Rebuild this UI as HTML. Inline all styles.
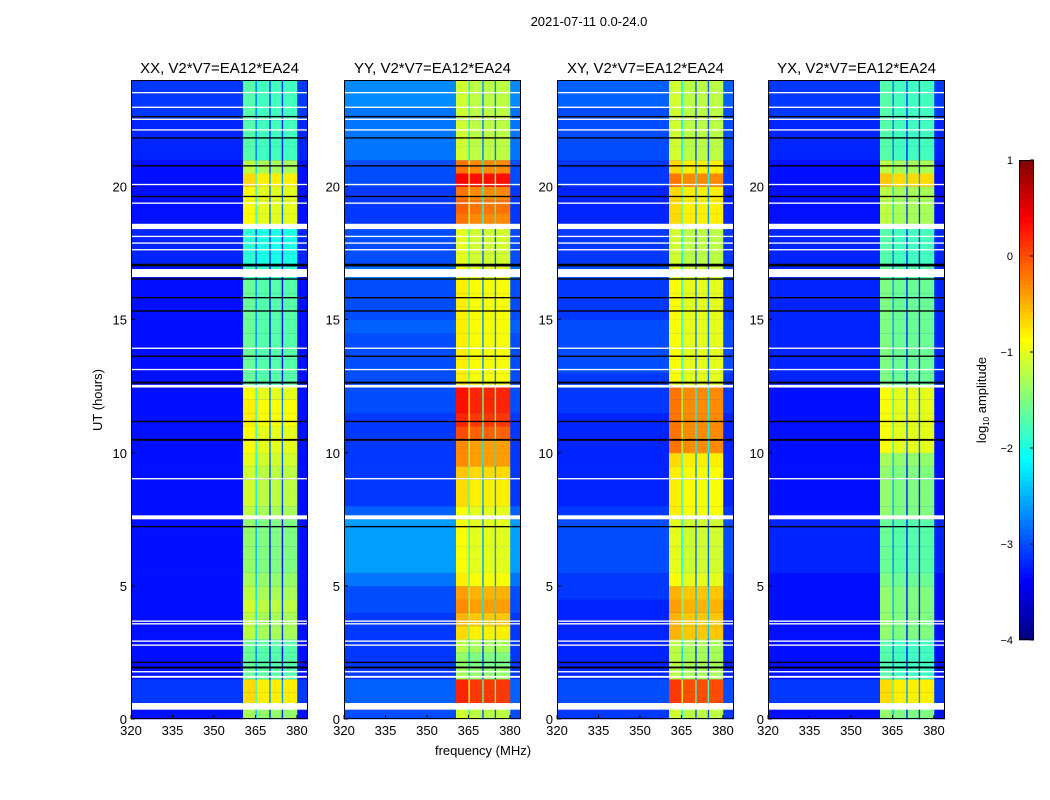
<!DOCTYPE html>
<html><head><meta charset="utf-8">
<style>
body{margin:0;background:#fff;}
svg{display:block;font-family:"Liberation Sans",sans-serif;}
</style></head>
<body>
<svg id="chart" width="1050" height="800" viewBox="0 0 1050 800" xmlns="http://www.w3.org/2000/svg">
<rect width="1050" height="800" fill="#fff"/>
<text x="589" y="26" font-size="13" text-anchor="middle">2021-07-11 0.0-24.0</text>
<text x="483" y="755" font-size="13" text-anchor="middle">frequency (MHz)</text>
<text x="102" y="400" font-size="13" text-anchor="middle" transform="rotate(-90 102 400)">UT (hours)</text>
<g id="panels"></g>
<g id="cbar"></g>
<text x="986" y="400" font-size="13" text-anchor="middle" transform="rotate(-90 986 400)">log<tspan font-size="8" dy="3">10</tspan><tspan dy="-3"> amplitude</tspan></text>
</svg>
<script>
// ---- data ----
const panelTitles = ["XX, V2*V7=EA12*EA24","YY, V2*V7=EA12*EA24","XY, V2*V7=EA12*EA24","YX, V2*V7=EA12*EA24"];
const xTicks = [320,335,350,365,380];
const yTicks = [0,5,10,15,20];
const cbarTicks = [1,0,-1,-2,-3,-4];
// band level (log10 amplitude) per half-hour row, 0..24 h
const bandXX = [-1.4,-0.8,-0.8,-1.7,-1.7,-1.7,-1.3,-1.3,-1.2,-1.3,-1.4,-1.5,-1.5,-1.5,-1.5,-1.3,-1.2,-1.2,-1.2,-1.1,-1.0,-1.0,-0.9,-0.9,-1.0,-1.7,-1.7,-1.7,-1.7,-1.7,-1.7,-1.7,-1.7,-1.9,-2.0,-2.0,-2.0,-1.0,-1.0,-1.0,-0.8,-1.3,-1.8,-1.8,-1.8,-1.8,-1.8,-1.8];
const bandYY = [-1.2,0.1,0.1,-1.4,-1.5,-1.3,-0.8,-0.6,-0.4,-0.5,-0.9,-1.0,-1.0,-1.0,-1.0,-1.0,-0.8,-0.8,-0.7,-0.4,-0.4,-0.1,0.1,0.2,0.2,-0.9,-0.9,-0.9,-0.9,-0.9,-0.9,-0.9,-0.9,-1.0,-1.1,-1.1,-1.1,-0.3,-0.2,-0.3,0.3,-0.3,-1.2,-1.2,-1.2,-1.2,-1.2,-1.2];
const bandXY = [-1.2,0.0,0.0,-1.3,-1.3,-1.3,-0.6,-0.6,-0.5,-0.6,-1.0,-1.1,-1.1,-1.1,-1.1,-0.9,-0.9,-0.9,-0.9,-0.8,-0.3,-0.3,-0.3,-0.3,-0.3,-1.0,-1.0,-1.0,-1.0,-1.0,-1.0,-1.0,-1.0,-1.1,-1.2,-1.2,-1.2,-0.8,-0.8,-0.8,-0.3,-0.8,-1.2,-1.2,-1.2,-1.2,-1.2,-1.2];
const bandYX = [-1.5,-0.8,-0.8,-1.8,-1.8,-1.8,-1.5,-1.5,-1.5,-1.5,-1.6,-1.7,-1.7,-1.7,-1.7,-1.5,-1.5,-1.5,-1.5,-1.4,-1.0,-1.0,-1.0,-1.0,-1.0,-1.6,-1.6,-1.6,-1.6,-1.6,-1.6,-1.6,-1.6,-1.7,-1.8,-1.8,-1.8,-1.3,-1.3,-1.3,-0.7,-1.3,-1.8,-1.8,-1.8,-1.8,-1.8,-1.8];
// background level per half-hour row
const bgXX = [-3.3,-3.1,-3.1,-3.3,-3.3,-3.3,-3.3,-3.3,-3.3,-3.3,-3.3,-3.3,-3.3,-3.3,-3.3,-3.3,-3.3,-3.3,-3.3,-3.3,-3.3,-3.3,-3.3,-3.3,-3.3,-3.3,-3.3,-3.3,-3.3,-3.3,-3.3,-3.3,-3.3,-3.3,-3.2,-3.2,-3.2,-3.3,-3.3,-3.3,-3.3,-3.3,-3.2,-3.2,-3.2,-3.1,-3.1,-3.1];
const bgYY = [-3.0,-2.9,-2.9,-3.1,-3.1,-3.1,-3.1,-3.1,-3.0,-3.0,-2.8,-2.6,-2.6,-2.6,-2.6,-2.9,-3.1,-3.1,-3.1,-3.1,-3.1,-3.1,-3.1,-3.0,-3.0,-3.0,-3.0,-3.0,-3.0,-2.9,-3.0,-3.0,-3.0,-2.8,-3.0,-3.0,-3.0,-3.1,-3.1,-3.1,-3.0,-3.0,-2.8,-2.8,-2.8,-2.8,-2.7,-2.7];
const bgXY = [-3.1,-3.0,-3.0,-3.2,-3.2,-3.2,-3.2,-3.2,-3.2,-3.1,-3.1,-3.0,-3.0,-3.0,-3.0,-3.1,-3.2,-3.2,-3.2,-3.2,-3.2,-3.2,-3.2,-3.1,-3.1,-3.1,-3.0,-3.0,-3.0,-3.0,-3.1,-3.1,-3.1,-3.0,-3.1,-3.1,-3.1,-3.2,-3.2,-3.2,-3.1,-3.1,-3.0,-3.0,-3.0,-3.0,-2.9,-2.9];
const bgYX = [-3.3,-3.1,-3.1,-3.3,-3.3,-3.3,-3.3,-3.3,-3.3,-3.3,-3.3,-3.2,-3.2,-3.2,-3.2,-3.3,-3.3,-3.3,-3.3,-3.3,-3.3,-3.3,-3.3,-3.3,-3.3,-3.2,-3.2,-3.2,-3.2,-3.2,-3.2,-3.2,-3.2,-3.2,-3.2,-3.2,-3.2,-3.3,-3.3,-3.3,-3.3,-3.3,-3.2,-3.2,-3.2,-3.1,-3.1,-3.1];
// frequency profile per 0.5 MHz channel (360.5..380), offset added inside band
const bandStartMHz = 360.5;
const bandEndMHz = 380;
const freqProfile = [0.1,0.1,0.1,0.1,0.1,0.1,0.1,0.1,0.1,-1.0,0.0,0.0,0.0,0.0,0.0,0.0,0.0,0.0,0.0,-1.8,0.0,0.0,0.0,0.0,0.0,0.0,0.0,0.0,-1.8,0.0,0.0,0.0,0.0,0.0,0.0,0.0,0.0,0.0,0.0];
// flagged rows (hours)
const whiteFlags = [[0.35,0.6],[1.55,1.62],[1.75,1.8],[2.75,2.8],[2.9,2.95],[3.55,3.6],[3.65,3.7],[7.5,7.65],[9.0,9.05],[12.45,12.55],[13.1,13.15],[13.9,13.95],[16.6,16.9],[17.6,17.65],[17.85,17.9],[18.1,18.15],[18.4,18.6],[19.35,19.4],[20.05,20.1],[22.1,22.15],[22.5,22.55],[22.95,23.0],[23.5,23.55]];
const blackFlags = [[1.9,1.97],[2.1,2.15],[7.2,7.25],[10.45,10.52],[11.15,11.2],[12.6,12.67],[13.6,13.65],[15.3,15.35],[15.8,15.85],[16.5,16.55],[17.0,17.1],[19.6,19.65],[20.75,20.8],[21.8,21.85],[22.6,22.65]];

const bands = [bandXX,bandYY,bandXY,bandYX];
const bgs = [bgXX,bgYY,bgXY,bgYX];
const panelNames = ["xx","yy","xy","yx"];

// ---- layout ----
const NS="http://www.w3.org/2000/svg";
const lefts=[131,344,557,768], PW=177, TOP=80, BOT=719;
const FMIN=320, FMAX=384, TMIN=0, TMAX=24, VMIN=-4, VMAX=1;
function xs(i,f){return lefts[i]+(f-FMIN)/(FMAX-FMIN)*PW;}
function ys(t){return BOT-(t-TMIN)/(TMAX-TMIN)*(BOT-TOP);}
function jet(v){
  let x=(v-VMIN)/(VMAX-VMIN); x=Math.max(0,Math.min(1,x));
  const c=(a)=>Math.round(255*Math.max(0,Math.min(1,a)));
  const r=Math.min(4*x-1.5,-4*x+4.5), g=Math.min(4*x-0.5,-4*x+3.5), b=Math.min(4*x+0.5,-4*x+2.5);
  return `rgb(${c(r)},${c(g)},${c(b)})`;
}
function mk(tag,attrs,parent){const e=document.createElementNS(NS,tag);for(const k in attrs)e.setAttribute(k,attrs[k]);parent.appendChild(e);return e;}

const root=document.getElementById('panels');
for(let p=0;p<4;p++){
  const g=mk('g',{},root);
  
  
  const nRows=bands[p].length, dt=(TMAX-TMIN)/nRows;
  for(let r=0;r<nRows;r++){
    const t0=r*dt, y0=ys(t0+dt), h=ys(t0)-y0;
    const bgc=mk('rect',{x:xs(p,FMIN),y:y0,width:PW,height:h+0.3,fill:jet(bgs[p][r])},g);
    
    
    const fw=(bandEndMHz-bandStartMHz)/freqProfile.length;
    for(let k=0;k<freqProfile.length;k++){
      const f=bandStartMHz+k*fw;
      const v=Math.max(bgs[p][r], bands[p][r]+freqProfile[k]);
      const c=mk('rect',{x:xs(p,f),y:y0,width:xs(p,f+fw)-xs(p,f)+0.3,height:h+0.3,fill:jet(v)},g);
      
      
    }
  }
  for(const fl of whiteFlags){
    const e=mk('rect',{x:lefts[p],y:ys(fl[1]),width:PW,height:Math.max(1.2,ys(fl[0])-ys(fl[1])),fill:'#fff'},g);
    
    
  }
  for(const fl of blackFlags){
    const e=mk('rect',{x:lefts[p],y:ys(fl[1]),width:PW,height:Math.max(1.2,ys(fl[0])-ys(fl[1])),fill:'#000'},g);
    
    
  }
  const fr=mk('rect',{x:lefts[p]+0.5,y:TOP+0.5,width:PW-1,height:BOT-TOP-1,fill:'none',stroke:'#000','stroke-width':1},g);
  
  
  const tt=mk('text',{x:lefts[p]+PW/2,y:TOP-7,'font-size':15,'text-anchor':'middle'},g);
  tt.textContent=panelTitles[p];
  
  
  for(const f of xTicks){
    const x=xs(p,f);
    const l=mk('line',{x1:x,x2:x,y1:BOT,y2:BOT-4,stroke:'#000'},g);
    
    
    const tx=mk('text',{x:x,y:BOT+16,'font-size':13,'text-anchor':'middle'},g);
    tx.textContent=f;
    
    
  }
  for(const t of yTicks){
    const y=ys(t);
    const l=mk('line',{x1:lefts[p],x2:lefts[p]+4,y1:y,y2:y,stroke:'#000'},g);
    
    
    const tx=mk('text',{x:lefts[p]-4,y:y+5,'font-size':13,'text-anchor':'end'},g);
    tx.textContent=t;
    
    
  }
}
// colorbar
const cb=document.getElementById('cbar');
const CX=1019, CW=15, CT=160, CB=640;
const cys=v=>CB-(v-VMIN)/(VMAX-VMIN)*(CB-CT);
for(let i=0;i<100;i++){
  const v0=VMIN+i*(VMAX-VMIN)/100, v1=VMIN+(i+1)*(VMAX-VMIN)/100;
  const r=mk('rect',{x:CX,y:cys(v1),width:CW,height:cys(v0)-cys(v1)+0.3,fill:jet((v0+v1)/2)},cb);
  
  
}
const cf=mk('rect',{x:CX+0.5,y:CT+0.5,width:CW-1,height:CB-CT-1,fill:'none',stroke:'#000'},cb);


for(const v of cbarTicks){
  const y=cys(v);
  const l=mk('line',{x1:CX+CW-4,x2:CX+CW,y1:y,y2:y,stroke:'#000'},cb);
  
  
  const tx=mk('text',{x:CX-6,y:y+4,'font-size':11,'text-anchor':'end'},cb);
  tx.textContent=v<0?'\u2212'+(-v):String(v);
  
  
}
</script>
</body></html>
